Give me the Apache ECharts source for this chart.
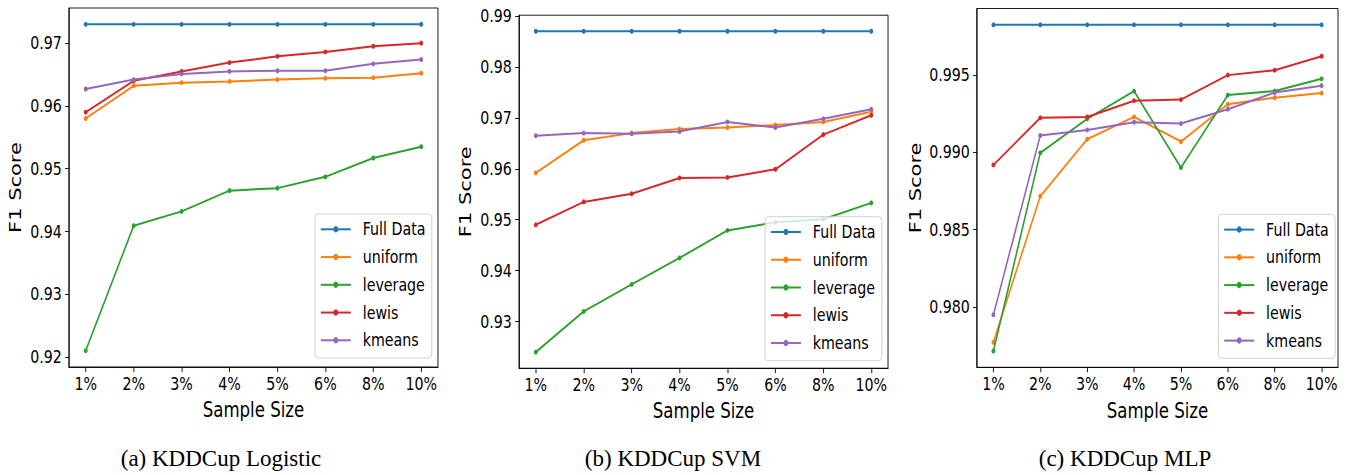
<!DOCTYPE html>
<html>
<head>
<meta charset="utf-8">
<script src="https://cdn.jsdelivr.net/npm/echarts@6/dist/echarts.min.js"></script>
<style>
  html, body { margin: 0; padding: 0; background: #fff; overflow: hidden; }
  #wrap { position: relative; width: 1351px; height: 475px; overflow: hidden; }
  #main { position: absolute; left: 0; top: 0; width: 1710px; height: 475px; transform: scaleX(0.79); transform-origin: 0 0; }
  #cap { position: absolute; left: 0; top: 0; width: 1351px; height: 475px; pointer-events: none; }
</style>
</head>
<body>
<div id="wrap">
  <div id="main"></div>
  <div id="cap"></div>
</div>
<script>
// ---------------- data ----------------
const categories = ['1%', '2%', '3%', '4%', '5%', '6%', '8%', '10%'];
const methods = ['Full Data', 'uniform', 'leverage', 'lewis', 'kmeans'];
const colors = ['#1f77b4', '#ff7f0e', '#2ca02c', '#d62728', '#9467bd'];

// (a) KDDCup Logistic
const logisticFull     = [0.9730, 0.9730, 0.9730, 0.9730, 0.9730, 0.9730, 0.9730, 0.9730];
const logisticUniform  = [0.9580, 0.9632, 0.9637, 0.9639, 0.9642, 0.9644, 0.9645, 0.9652];
const logisticLeverage = [0.9210, 0.9409, 0.9432, 0.9465, 0.9469, 0.9487, 0.9517, 0.9535];
const logisticLewis    = [0.9590, 0.9640, 0.9655, 0.9669, 0.9679, 0.9686, 0.9695, 0.9700];
const logisticKmeans   = [0.9627, 0.9642, 0.9651, 0.9655, 0.9656, 0.9656, 0.9667, 0.9674];
const logisticTicks    = [0.92, 0.93, 0.94, 0.95, 0.96, 0.97];

// (b) KDDCup SVM
const svmFull     = [0.9870, 0.9870, 0.9870, 0.9870, 0.9870, 0.9870, 0.9870, 0.9870];
const svmUniform  = [0.9592, 0.9656, 0.9670, 0.9678, 0.9681, 0.9686, 0.9692, 0.9712];
const svmLeverage = [0.9240, 0.9320, 0.9373, 0.9425, 0.9479, 0.9495, 0.9501, 0.9533];
const svmLewis    = [0.9490, 0.9535, 0.9551, 0.9582, 0.9583, 0.9599, 0.9667, 0.9705];
const svmKmeans   = [0.9665, 0.9670, 0.9669, 0.9673, 0.9692, 0.9681, 0.9698, 0.9717];
const svmTicks    = [0.93, 0.94, 0.95, 0.96, 0.97, 0.98, 0.99];

// (c) KDDCup MLP
const mlpFull     = [0.99823, 0.99823, 0.99823, 0.99823, 0.99823, 0.99823, 0.99823, 0.99823];
const mlpUniform  = [0.97772, 0.98716, 0.99084, 0.99228, 0.99069, 0.99310, 0.99352, 0.99382];
const mlpLeverage = [0.97716, 0.98996, 0.99215, 0.99395, 0.98901, 0.99369, 0.99395, 0.99474];
const mlpLewis    = [0.98918, 0.99222, 0.99228, 0.99333, 0.99340, 0.99498, 0.99530, 0.99620];
const mlpKmeans   = [0.97950, 0.99108, 0.99144, 0.99194, 0.99185, 0.99278, 0.99385, 0.99430];
const mlpTicks    = [0.980, 0.985, 0.990, 0.995];

const captions = ['(a) KDDCup Logistic', '(b) KDDCup SVM', '(c) KDDCup MLP'];

// ---------------- layout ----------------
const FONT = "'DejaVu Sans', sans-serif";
const panels = [
  { series: [logisticFull, logisticUniform, logisticLeverage, logisticLewis, logisticKmeans], ticks: logisticTicks, dec: 2,
    grid: { left: 87.3, top: 8, width: 467.1, height: 359 }, nameGap: 58,
    legend: { left: 398.7, top: 214 } },
  { series: [svmFull, svmUniform, svmLeverage, svmLewis, svmKmeans], ticks: svmTicks, dec: 2,
    grid: { left: 657.0, top: 15.2, width: 467.1, height: 353 }, nameGap: 58,
    legend: { left: 968.4, top: 216.7 } },
  { series: [mlpFull, mlpUniform, mlpLeverage, mlpLewis, mlpKmeans], ticks: mlpTicks, dec: 3,
    grid: { left: 1236.7, top: 8.5, width: 457, height: 358.8 }, nameGap: 68,
    legend: { left: 1542.2, top: 214.3 } }
];

const grids = [], xAxes = [], yAxes = [], series = [], legends = [];
const xIdx = categories.map((c, i) => i);

panels.forEach((p, k) => {
  let lo = Infinity, hi = -Infinity;
  p.series.forEach(arr => arr.forEach(v => { lo = Math.min(lo, v); hi = Math.max(hi, v); }));
  const pad = (hi - lo) * 0.05;
  grids.push(Object.assign({ show: true, borderColor: '#000', borderWidth: 1, backgroundColor: 'transparent' }, p.grid));
  xAxes.push({
    gridIndex: k, type: 'value', min: -0.35, max: categories.length - 1 + 0.35,
    name: 'Sample Size', nameLocation: 'middle', nameGap: 32,
    nameTextStyle: { fontFamily: FONT, fontSize: 21, color: '#000' },
    axisLine: { show: true, onZero: false, lineStyle: { color: '#000', width: 1 } },
    axisTick: { show: true, length: 5, lineStyle: { color: '#000' }, customValues: xIdx },
    axisLabel: { customValues: xIdx, fontFamily: FONT, fontSize: 18, color: '#000', margin: 8,
                 formatter: v => categories[Math.round(v)] },
    splitLine: { show: false }
  });
  yAxes.push({
    gridIndex: k, type: 'value', min: lo - pad, max: hi + pad,
    name: 'F1 Score', nameLocation: 'middle', nameGap: p.nameGap,
    nameTextStyle: { fontFamily: FONT, fontSize: 21, color: '#000' },
    axisLine: { show: true, onZero: false, lineStyle: { color: '#000', width: 1 } },
    axisTick: { show: true, length: 5, lineStyle: { color: '#000' }, customValues: p.ticks },
    axisLabel: { customValues: p.ticks, fontFamily: FONT, fontSize: 18, color: '#000', margin: 9,
                 formatter: v => Number(v).toFixed(p.dec) },
    splitLine: { show: false }
  });
  p.series.forEach((arr, j) => {
    series.push({
      name: methods[j], type: 'line', xAxisIndex: k, yAxisIndex: k,
      data: arr.map((v, i) => [i, v]),
      symbol: 'circle', symbolSize: 5, showSymbol: true,
      lineStyle: { color: colors[j], width: 2 },
      itemStyle: { color: colors[j] },
      emphasis: { disabled: true },
      animation: false, z: 2 + j * 0.01
    });
  });
  legends.push({
    orient: 'vertical', left: p.legend.left, top: p.legend.top,
    data: methods,
    itemWidth: 38, itemHeight: 8, itemGap: 9.75,
    padding: [6.3, 8, 8.7, 6.4],
    backgroundColor: 'rgba(255,255,255,0.8)', borderColor: '#cccccc', borderWidth: 1, borderRadius: 4,
    textStyle: { fontFamily: FONT, fontSize: 18, color: '#000', padding: [0, 0, 0, 10] },
    selectedMode: false, z: 10
  });
});

const chart = echarts.init(document.getElementById('main'), null, { renderer: 'svg' });
chart.setOption({
  animation: false,
  color: colors,
  grid: grids, xAxis: xAxes, yAxis: yAxes, series: series, legend: legends
});

const capChart = echarts.init(document.getElementById('cap'), null, { renderer: 'svg' });
const capX = [221, 673, 1125];
capChart.setOption({
  animation: false,
  title: captions.map((t, i) => ({
    text: t, left: capX[i], top: 447, textAlign: 'center', padding: 0,
    textStyle: { fontFamily: "'Liberation Serif', 'Times New Roman', serif", fontSize: 23, fontWeight: 'normal', color: '#000' }
  }))
});
</script>
</body>
</html>
